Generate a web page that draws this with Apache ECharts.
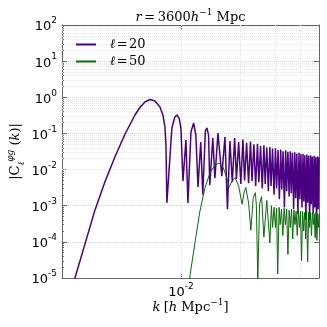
<!DOCTYPE html>
<html>
<head>
<meta charset="utf-8">
<script src="https://cdn.jsdelivr.net/npm/echarts@6/dist/echarts.min.js"></script>
<style>
  html, body { margin: 0; padding: 0; background: #fff; }
  #chart { width: 327px; height: 327px; }
</style>
</head>
<body>
<div id="chart"></div>
<script>
// |C_l^{phi g}(k)| at r = 3600 Mpc/h (k in h/Mpc)
var k20 = [0.00281, 0.00367, 0.00412, 0.00463, 0.0052, 0.00585, 0.0062, 0.00657, 0.00697,
  0.00739, 0.00783, 0.00811, 0.0083, 0.0084, 0.00849, 0.0090, 0.0093, 0.00954, 0.0098,
  0.0100, 0.01024, 0.0106, 0.01085, 0.01124, 0.0116, 0.0119, 0.0122, 0.0126, 0.0129,
  0.0133, 0.01354, 0.0138, 0.0140, 0.0145, 0.01486, 0.0154, 0.0161, 0.0167, 0.0172,
  0.0177, 0.0182, 0.0187, 0.0191, 0.0196, 0.0201, 0.0206, 0.0210, 0.0215, 0.0220,
  0.0225, 0.0229, 0.0234, 0.0239, 0.0244, 0.0248, 0.0253, 0.0258, 0.0263, 0.0267,
  0.0272, 0.0277, 0.0282, 0.0286, 0.0291, 0.0296, 0.0301, 0.0305, 0.0310, 0.0315,
  0.0320, 0.0324, 0.0329, 0.0334, 0.0339, 0.0343, 0.0348, 0.0353, 0.0358, 0.0362,
  0.0367, 0.0372, 0.0377, 0.0381, 0.0386, 0.0391, 0.0396, 0.0400, 0.0405, 0.0410,
  0.0415, 0.0419, 0.0424, 0.0429, 0.0434, 0.0438, 0.0443, 0.0448, 0.0453, 0.0457,
  0.0462, 0.0467, 0.0472, 0.0476, 0.0481, 0.0486, 0.0491, 0.0495, 0.0500];
var c20 = [5.3e-6, 7.55e-4, 0.00453, 0.0223, 0.0933, 0.323, 0.521, 0.74, 0.868,
  0.79, 0.538, 0.323, 0.15, 0.0464, 0.0012, 0.141, 0.28, 0.323, 0.26,
  0.141, 0.0048, 0.0656, 0.0012, 0.109, 0.194, 0.09, 0.0033, 0.058, 0.002,
  0.12, 0.141, 0.09, 0.0037, 0.0745, 0.0058, 0.103, 0.0066, 0.0794, 0.0008,
  0.062, 0.0045, 0.075, 0.0055, 0.058, 0.004, 0.068, 0.005, 0.055, 0.0042,
  0.06, 0.0048, 0.05, 0.0035, 0.052, 0.0045, 0.045, 0.003, 0.047, 0.004,
  0.041, 0.0025, 0.042, 0.0035, 0.038, 0.002, 0.039, 0.003, 0.035, 0.0015,
  0.036, 0.0028, 0.032, 0.0009, 0.034, 0.0025, 0.031, 0.0018, 0.032, 0.0022,
  0.029, 0.0008, 0.030, 0.0016, 0.028, 0.0006, 0.029, 0.0015, 0.027, 0.0009,
  0.027, 0.0013, 0.025, 0.0004, 0.026, 0.0012, 0.024, 0.0004, 0.025, 0.0011,
  0.023, 0.0006, 0.024, 0.0009, 0.022, 0.0003, 0.023, 0.0008, 0.022];

var k50 = [0.0110, 0.01177, 0.01248, 0.01323, 0.01402, 0.01486, 0.01557, 0.01632, 0.0171, 0.0175,
  0.0182, 0.0188, 0.0196, 0.0204, 0.0209, 0.0213, 0.0220, 0.0226, 0.0232, 0.0238,
  0.0241, 0.0245, 0.0250, 0.0256, 0.0263, 0.0272, 0.0282, 0.0287, 0.0291, 0.0296,
  0.0301, 0.0305, 0.0309, 0.0314, 0.0318, 0.0323, 0.0328, 0.0333, 0.0338, 0.0343,
  0.0348, 0.0353, 0.0358, 0.0363, 0.0368, 0.0373, 0.0378, 0.0383, 0.0388, 0.0393,
  0.0398, 0.0403, 0.0408, 0.0413, 0.0418, 0.0423, 0.0428, 0.0433, 0.0438, 0.0443,
  0.0448, 0.0453, 0.0458, 0.0463, 0.0468, 0.0473, 0.0478, 0.0483, 0.0488, 0.0493,
  0.0498, 0.0502];
var c50 = [8e-6, 9.3e-5, 7.1e-4, 0.0031, 0.008, 0.0133, 0.0151, 0.0117, 0.0058, 0.0033,
  0.0048, 0.006, 0.0035, 0.0011, 0.0024, 0.0032, 0.0012, 2.1e-4, 0.0016, 0.0023,
  0.001, 8e-6, 0.0011, 0.0018, 1.35e-4, 0.0014, 9.3e-5, 1.0e-3, 2.5e-4, 9e-4,
  2.5e-4, 8.5e-4, 1.3e-5, 9e-4, 3e-4, 8e-4, 1.5e-4, 8.5e-4, 3e-4, 8e-4,
  4.5e-5, 7.5e-4, 2.5e-4, 8e-4, 1.2e-4, 7.5e-4, 3e-4, 7e-4, 1.5e-4, 7.5e-4,
  2.5e-4, 7e-4, 3e-5, 7e-4, 2e-4, 6.5e-4, 1.2e-4, 7e-4, 2.8e-5, 6.5e-4,
  2.5e-4, 6.5e-4, 1.5e-4, 6.5e-4, 3e-4, 6e-4, 1.3e-4, 6.5e-4, 1.1e-4, 6e-4,
  2.5e-4, 6e-4];

var seriesNames = ['ℓ=20', 'ℓ=50'];
var seriesColors = ['#4b0082', '#0a6b0a'];

// minor grid lines (2..9 x 10^n)
var xMinor = [0.003, 0.004, 0.005, 0.006, 0.007, 0.008, 0.009, 0.02, 0.03, 0.04];
var yMinor = [];
for (var e = -5; e < 2; e++) {
  for (var m = 2; m < 10; m++) yMinor.push(m * Math.pow(10, e));
}

function pairs(xs, ys) {
  return xs.map(function (x, i) { return [x, ys[i]]; });
}

function pow10Label(v) {
  var p = Math.round(Math.log10(v));
  return '{b|10}{s|' + p + '}';
}

var labelRich = {
  b: { fontSize: 13, fontFamily: 'DejaVu Sans', color: '#000', lineHeight: 17, verticalAlign: 'bottom' },
  s: { fontSize: 9, fontFamily: 'DejaVu Sans', color: '#000', lineHeight: 10, verticalAlign: 'top' }
};

var mathRich = {
  i: { fontFamily: 'DejaVu Serif', fontStyle: 'italic', fontSize: 13, lineHeight: 16, verticalAlign: 'bottom', color: '#000' },
  n: { fontFamily: 'DejaVu Serif', fontSize: 13, lineHeight: 16, verticalAlign: 'bottom', color: '#000' },
  s: { fontFamily: 'DejaVu Serif', fontSize: 9, lineHeight: 9, verticalAlign: 'top', color: '#000' }
};

var frameColor = '#666';
var gridLine = { show: true, lineStyle: { color: '#d4d4d4', type: 'dotted', width: 1 } };

var chart = echarts.init(document.getElementById('chart'));
chart.setOption({
  animation: false,
  backgroundColor: '#fff',
  grid: { left: 62, right: 8, top: 25, bottom: 49, containLabel: false, outerBoundsMode: 'none' },
  graphic: [{
    type: 'text', x: 190.5, y: 8,
    style: {
      text: '{i|r}{n|\u2009=\u20093600}{i|h}{s|−1}{n| Mpc}',
      align: 'center',
      rich: mathRich,
      fill: '#000'
    }
  }],
  legend: {
    data: seriesNames.map(function (n) { return { name: n, icon: 'rect' }; }),
    orient: 'vertical',
    left: 71, top: 33,
    itemWidth: 20, itemHeight: 2, itemGap: 4,
    formatter: function (name) {
      return '{i|ℓ}{n|\u200a=\u200a' + name.split('=')[1] + '}';
    },
    textStyle: {
      color: '#000',
      padding: [0, 0, 0, 9],
      rich: {
        i: { fontFamily: 'DejaVu Serif', fontStyle: 'italic', fontSize: 13, color: '#000' },
        n: { fontFamily: 'DejaVu Serif', fontSize: 13, color: '#000' }
      }
    }
  },
  xAxis: [{
    type: 'log', logBase: 10, min: 0.0025, max: 0.05,
    position: 'bottom',
    name: '{i|k} {n|[}{i|h}{n| Mpc}{s|−1}{n|]}',
    nameLocation: 'middle', nameGap: 20, nameMoveOverlap: false,
    nameTextStyle: { color: '#000', rich: mathRich },
    axisLine: { lineStyle: { color: frameColor, width: 1 } },
    axisTick: { inside: true, length: 5, lineStyle: { color: frameColor } },
    axisLabel: { formatter: pow10Label, rich: labelRich, margin: 4, showMinLabel: false, showMaxLabel: false },
    splitLine: gridLine
  }, {
    type: 'log', logBase: 10, min: 0.0025, max: 0.05,
    position: 'top',
    axisLine: { lineStyle: { color: frameColor, width: 1 } },
    axisTick: { inside: true, length: 5, lineStyle: { color: frameColor } },
    axisLabel: { show: false },
    splitLine: { show: false }
  }],
  yAxis: [{
    type: 'log', logBase: 10, min: 1e-5, max: 1e2, splitNumber: 7,
    position: 'left',
    name: '{t||C}{sb|ℓ}{sp|φg}{t| (}{i|k}{t|)|}',
    nameLocation: 'middle', nameGap: 36, nameRotate: 90, nameMoveOverlap: false,
    nameTextStyle: {
      color: '#000',
      rich: {
        t: { fontFamily: 'DejaVu Serif', fontSize: 13, lineHeight: 20, color: '#000' },
        i: { fontFamily: 'DejaVu Serif', fontStyle: 'italic', fontSize: 13, lineHeight: 20, color: '#000' },
        sb: { fontFamily: 'DejaVu Serif', fontStyle: 'italic', fontSize: 9, lineHeight: 9, verticalAlign: 'bottom', color: '#000' },
        sp: { fontFamily: 'DejaVu Serif', fontStyle: 'italic', fontSize: 9, lineHeight: 9, verticalAlign: 'top', color: '#000' }
      }
    },
    axisLine: { lineStyle: { color: frameColor, width: 1 } },
    axisTick: { inside: true, length: 5, lineStyle: { color: frameColor } },
    minorTick: { show: true, splitNumber: 9, length: 2, lineStyle: { color: frameColor } },
    axisLabel: { formatter: pow10Label, rich: labelRich, margin: 5 },
    splitLine: gridLine
  }, {
    type: 'log', logBase: 10, min: 1e-5, max: 1e2, splitNumber: 7,
    position: 'right',
    axisLine: { lineStyle: { color: frameColor, width: 1 } },
    axisTick: { inside: true, length: 5, lineStyle: { color: frameColor } },
    axisLabel: { show: false },
    splitLine: { show: false }
  }],
  series: [{
    type: 'line', data: [], silent: true, z: 1,
    markLine: {
      z: 1,
      symbol: 'none', silent: true, animation: false,
      label: { show: false },
      emphasis: { disabled: true },
      lineStyle: { color: '#e6e6e6', type: 'dotted', width: 1 },
      data: xMinor.map(function (v) { return { xAxis: v }; })
        .concat(yMinor.map(function (v) { return { yAxis: v }; }))
    }
  }, {
    name: seriesNames[0], type: 'line', symbol: 'none', z: 3,
    data: pairs(k20, c20),
    lineStyle: { color: seriesColors[0], width: 1.5 },
    itemStyle: { color: seriesColors[0] }
  }, {
    name: seriesNames[1], type: 'line', symbol: 'none', z: 4,
    data: pairs(k50, c50),
    lineStyle: { color: seriesColors[1], width: 1 },
    itemStyle: { color: seriesColors[1] }
  }]
});
</script>
</body>
</html>
